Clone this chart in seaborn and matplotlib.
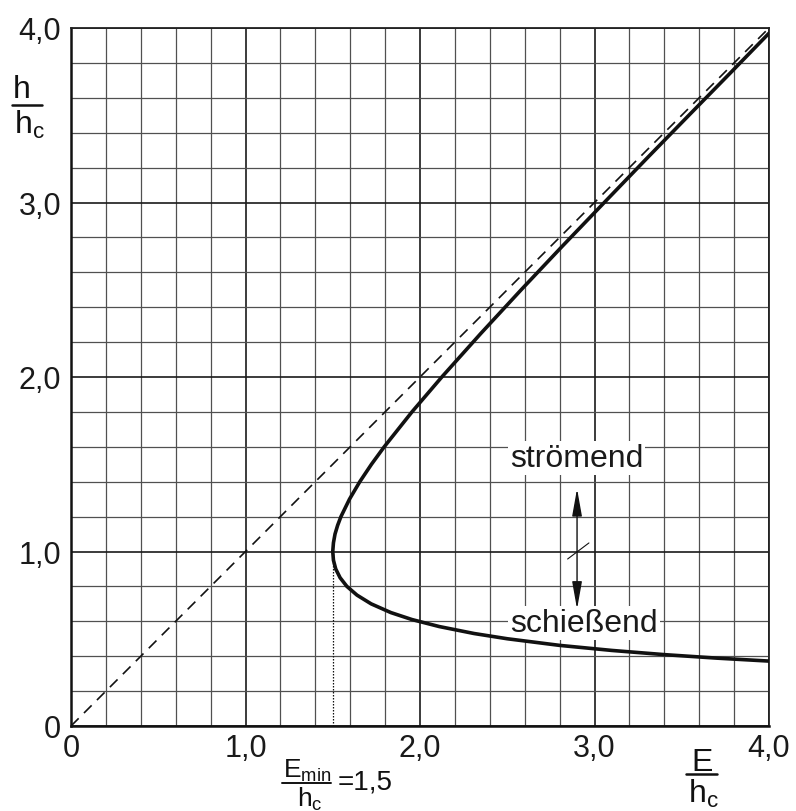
import matplotlib
matplotlib.use("Agg")
import matplotlib.pyplot as plt
from matplotlib.lines import Line2D
import seaborn as sns
import pandas as pd

# Specific energy curve E/h_c versus depth h/h_c (lower branch -> nose -> upper branch)
energy = [4.00, 3.70, 3.40, 3.10, 2.80, 2.50, 2.31, 2.11, 1.954, 1.833, 1.720,
          1.639, 1.581, 1.542, 1.517, 1.504, 1.500, 1.504, 1.513, 1.528, 1.547,
          1.596, 1.655, 1.722, 1.795, 1.954, 2.125, 2.349, 2.580, 2.816, 3.056,
          3.297, 3.541, 3.786, 4.000]
depth = [0.372, 0.389, 0.409, 0.433, 0.462, 0.500, 0.530, 0.570, 0.610, 0.650,
         0.700, 0.750, 0.800, 0.850, 0.900, 0.950, 1.000, 1.050, 1.100, 1.150,
         1.200, 1.300, 1.400, 1.500, 1.600, 1.800, 2.000, 2.250, 2.500, 2.750,
         3.000, 3.250, 3.500, 3.750, 3.970]

# Reference line h = E
diag_e = [0.0, 4.0]
diag_h = [0.0, 4.0]

# Minimum energy marker
e_min = 1.5
h_crit = 1.0

major_ticks = [0, 1, 2, 3, 4]
major_labels = ["0", "1,0", "2,0", "3,0", "4,0"]
minor_ticks = [0.2, 0.4, 0.6, 0.8, 1.2, 1.4, 1.6, 1.8, 2.2, 2.4, 2.6, 2.8,
               3.2, 3.4, 3.6, 3.8]

sns.set_theme(style="white")
plt.rcParams["font.family"] = ["Liberation Sans", "DejaVu Sans"]
plt.rcParams["mathtext.fontset"] = "custom"
plt.rcParams["mathtext.rm"] = "Liberation Sans"

W, H = 796, 812
fig = plt.figure(figsize=(W / 100, H / 100), dpi=100)
ax = fig.add_axes([71 / W, 1 - 727 / H, 698 / W, 698 / H])

FS = 22

# grid
ax.set_xlim(0, 4)
ax.set_ylim(0, 4)
ax.set_xticks(major_ticks)
ax.set_yticks(major_ticks)
ax.set_xticks(minor_ticks, minor=True)
ax.set_yticks(minor_ticks, minor=True)
ax.set_xticklabels(major_labels, fontsize=FS, color="#1a1a1a")
ax.set_yticklabels(major_labels, fontsize=FS, color="#1a1a1a")
ax.tick_params(which="both", length=0)
ax.tick_params(axis="x", pad=5)
ax.tick_params(axis="y", pad=7)
ax.grid(which="major", color="#1a1a1a", linewidth=1.2)
ax.grid(which="minor", color="#505050", linewidth=0.9)
ax.set_axisbelow(True)
for side in ["left", "bottom"]:
    ax.spines[side].set_linewidth(1.8)
    ax.spines[side].set_color("#111111")
for side in ["top", "right"]:
    ax.spines[side].set_linewidth(1.3)
    ax.spines[side].set_color("#222222")

# dashed line h = E
ax.plot(diag_e, diag_h, color="#111111", linewidth=1.2, dashes=(6.5, 4.5), zorder=3)

# dotted line at E_min
ax.plot([e_min, e_min], [0, h_crit], color="#111111", linewidth=0.9,
        linestyle=(0, (1.2, 1.2)), zorder=3)

# energy curve
curve = pd.DataFrame({"E": energy, "h": depth})
sns.lineplot(data=curve, x="E", y="h", sort=False, estimator=None,
             color="#111111", linewidth=2.6, ax=ax, zorder=5)
ax.set_xlabel("")
ax.set_ylabel("")

# regime labels
box = dict(facecolor="white", edgecolor="none", pad=1.5)
ax.text(2.515, 1.535, "strömend", fontsize=23, ha="left", va="center",
        color="#1a1a1a", bbox=box, zorder=4)
ax.text(2.515, 0.59, "schießend", fontsize=23, ha="left", va="center",
        color="#1a1a1a", bbox=box, zorder=4)

# double arrow between the regimes
ax.annotate("", xy=(2.90, 1.36), xytext=(2.90, 0.67),
            arrowprops=dict(arrowstyle="<|-|>,head_length=1.4,head_width=0.25",
                            color="#111111", linewidth=1.0,
                            shrinkA=0, shrinkB=0), zorder=4)
ax.plot([2.846, 2.968], [0.957, 1.049], color="#111111", linewidth=0.8, zorder=4)


def fx(x):
    return x / W


def fy(y):
    return 1 - y / H


def bar(x0, x1, y, lw=1.8):
    fig.add_artist(Line2D([fx(x0), fx(x1)], [fy(y), fy(y)],
                          transform=fig.transFigure, color="#111111", linewidth=lw))


# y axis label h / h_c
fig.text(fx(22), fy(98), "h", fontsize=23, ha="center", va="baseline", color="#111111")
bar(12, 42, 106)
fig.text(fx(14), fy(134), r"$\mathregular{h_c}$", fontsize=23, ha="left",
         va="baseline", color="#111111")

# x axis label E / h_c
fig.text(fx(702), fy(771), "E", fontsize=23, ha="center", va="baseline", color="#111111")
bar(686, 717, 775)
fig.text(fx(688), fy(803), r"$\mathregular{h_c}$", fontsize=23, ha="left",
         va="baseline", color="#111111")

# E_min / h_c = 1,5
fig.text(fx(283), fy(778), r"$\mathregular{E_{min}}$", fontsize=19, ha="left",
         va="baseline", color="#111111")
bar(282, 331, 784, lw=1.4)
fig.text(fx(297), fy(807), r"$\mathregular{h_c}$", fontsize=19, ha="left",
         va="baseline", color="#111111")
fig.text(fx(338), fy(783), "=1,5", fontsize=20, ha="left", va="center",
         color="#111111")

fig.savefig("out.png", dpi=100)
